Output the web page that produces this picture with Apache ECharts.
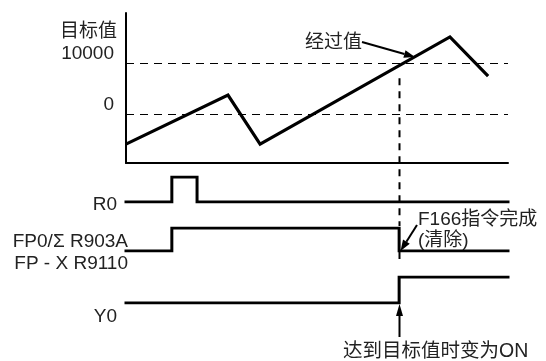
<!DOCTYPE html>
<html><head><meta charset="utf-8">
<script src="https://cdn.jsdelivr.net/npm/echarts@6/dist/echarts.min.js"></script>
<style>html,body{margin:0;padding:0;background:#fff}#c{width:546px;height:361px}</style>
</head><body><div id="c"></div>
<script>
// ---- data ----
var timeRange = [0, 100];
var valueRange = [-9600, 19800];
var analogTimes = [0, 26.7, 35.1, 84.8, 94.8];
var analogValues = [-5900, 3700, -5900, 15100, 7450];
var levelTicks = [0, 10000];
var levelTickLabels = ['0', '10000'];
var targetTime = 71.5;           // time when elapsed value reaches target
var r0Times = [0, 12.0, 18.6, 100];
var r0Levels = [0, 1, 0, 0];
var fpTimes = [0, 12.0, 71.5, 100];
var fpLevels = [0, 1, 0, 0];
var y0Times = [0, 71.5, 100];
var y0Levels = [0, 1, 1];
var signalNames = ['R0', 'FP0/\u03A3 R903A', 'FP - X R9110', 'Y0'];
var texts = {
  axisName: '目标值',
  elapsed: '经过值',
  done: 'F166指令完成',
  clear: '(清除)',
  reach: '达到目标值时变为ON'
};

function zip(a, b) { return a.map(function (v, i) { return [v, b[i]]; }); }

var FONT = '"Liberation Sans", "Noto Sans CJK SC", sans-serif';
var TXT = '#222';
var chart = echarts.init(document.getElementById('c'), null, {renderer: 'canvas'});

var gridL = 126, gridW = 382;
var grids = [
  {left: gridL, width: gridW, top: 13, height: 150},
  {left: gridL, width: gridW, top: 177, height: 25},
  {left: gridL, width: gridW, top: 228, height: 23},
  {left: gridL, width: gridW, top: 277, height: 26}
];
var xAxes = grids.map(function (g, i) {
  return {
    type: 'value', gridIndex: i, min: timeRange[0], max: timeRange[1],
    axisLine: {show: i === 0, onZero: false, lineStyle: {color: '#000', width: 2}},
    axisTick: {show: false}, axisLabel: {show: false}, splitLine: {show: false}
  };
});
var yAxes = grids.map(function (g, i) {
  if (i === 0) {
    return {
      type: 'value', gridIndex: 0, min: valueRange[0], max: valueRange[1],
      axisLine: {show: true, lineStyle: {color: '#000', width: 2}},
      axisTick: {show: false}, splitLine: {show: false},
      axisLabel: {
        show: true, customValues: levelTicks, margin: 12, verticalAlign: 'bottom',
        color: TXT, fontSize: 19, fontFamily: FONT,
        formatter: function (v) { return levelTickLabels[levelTicks.indexOf(v)] || ''; }
      }
    };
  }
  return {
    type: 'value', gridIndex: i, min: 0, max: 1,
    axisLine: {show: false}, axisTick: {show: false}, axisLabel: {show: false}, splitLine: {show: false}
  };
});

function stepSeries(idx, times, levels) {
  return {
    type: 'line', xAxisIndex: idx, yAxisIndex: idx, step: 'end',
    data: zip(times, levels), showSymbol: false, silent: true,
    lineStyle: {color: '#000', width: 3, cap: 'square', join: 'miter'}
  };
}

chart.setOption({
  animation: false,
  backgroundColor: '#fff',
  grid: grids,
  xAxis: xAxes,
  yAxis: yAxes,
  series: [
    {
      type: 'line', xAxisIndex: 0, yAxisIndex: 0,
      data: zip(analogTimes, analogValues), showSymbol: false, silent: true,
      lineStyle: {color: '#000', width: 3.2, join: 'miter'},
      markLine: {
        silent: true, symbol: ['none', 'none'], label: {show: false},
        lineStyle: {color: '#000', width: 1, type: [8, 6]},
        data: levelTicks.map(function (v) { return {yAxis: v}; })
      }
    },
    stepSeries(1, r0Times, r0Levels),
    stepSeries(2, fpTimes, fpLevels),
    stepSeries(3, y0Times, y0Levels)
  ]
});

function P(gi, t, v) { return chart.convertToPixel({gridIndex: gi}, [t, v]); }

function arrow(x1, y1, x2, y2, hl, hw) {
  var dx = x2 - x1, dy = y2 - y1, L = Math.sqrt(dx * dx + dy * dy);
  var ux = dx / L, uy = dy / L;
  var bx = x2 - ux * hl, by = y2 - uy * hl;
  return [
    {type: 'line', shape: {x1: x1, y1: y1, x2: bx, y2: by}, style: {stroke: '#000', lineWidth: 2}, silent: true},
    {type: 'polygon', shape: {points: [[x2, y2], [bx - uy * hw / 2, by + ux * hw / 2], [bx + uy * hw / 2, by - ux * hw / 2]]},
      style: {fill: '#000'}, silent: true}
  ];
}
function text(str, x, y, size, align) {
  return {type: 'text', x: x, y: y, silent: true,
    style: {text: str, fill: TXT, font: size + 'px ' + FONT, align: align || 'left', verticalAlign: 'middle'}};
}

var xT = Math.round(P(0, targetTime, 0)[0]) + 0.5;
var topDash = P(0, targetTime, 7000)[1];
var fpLow = P(2, targetTime, 0)[1];
var y0Low = P(3, targetTime, 0)[1];
var fpHigh = P(2, targetTime, 1)[1];

var elapsedTip = [415, 57];

var g = [];
g.push({type: 'line', shape: {x1: xT, y1: topDash, x2: xT, y2: fpHigh - 2}, style: {stroke: '#000', lineWidth: 2, lineDash: [7, 6]}, silent: true});
g.push({type: 'line', shape: {x1: xT, y1: fpLow + 1, x2: xT, y2: fpLow + 8}, style: {stroke: '#000', lineWidth: 2}, silent: true});
g = g.concat(arrow(362, 42, elapsedTip[0], elapsedTip[1], 11, 8));
g = g.concat(arrow(417, 225, xT + 1, fpLow, 11, 8));
g = g.concat(arrow(xT, 337, xT, y0Low + 1, 12, 7));

g.push(text(texts.axisName, 117, 32, 19, 'right'));
g.push(text(signalNames[0], 117, 205, 19, 'right'));
g.push(text(signalNames[1], 128, 242, 19, 'right'));
g.push(text(signalNames[2], 128, 264, 19, 'right'));
g.push(text(signalNames[3], 117, 317, 19, 'right'));
g.push(text(texts.elapsed, 305, 43, 19, 'left'));
g.push(text(texts.done, 418, 220, 19, 'left'));
g.push(text(texts.clear, 418, 241, 19, 'left'));
g.push(text(texts.reach, 343, 352, 19.5, 'left'));

chart.setOption({graphic: {elements: g}});
</script>
</body></html>
